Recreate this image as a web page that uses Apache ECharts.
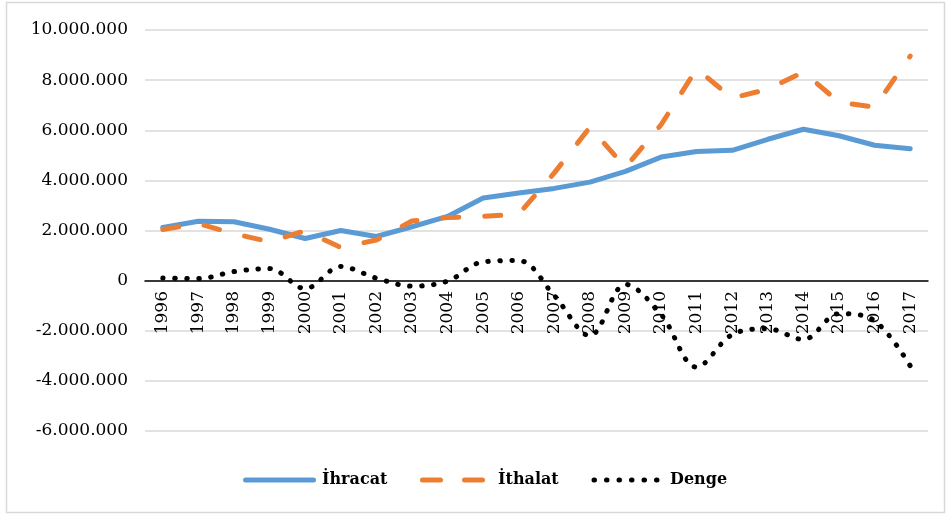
<!DOCTYPE html>
<html>
<head>
<meta charset="utf-8">
<script src="https://cdn.jsdelivr.net/npm/echarts@6/dist/echarts.min.js"></script>
<style>
  html, body { margin: 0; padding: 0; background: #fff; }
  #chart { width: 947px; height: 515px; }
</style>
</head>
<body>
<div id="chart"></div>
<script>
const years = ['1996', '1997', '1998', '1999', '2000', '2001', '2002', '2003', '2004', '2005', '2006',
  '2007', '2008', '2009', '2010', '2011', '2012', '2013', '2014', '2015', '2016', '2017']

// ihracat (exports)
const ihracat = [2120000, 2370000, 2350000, 2050000, 1680000, 2000000, 1760000, 2150000, 2560000, 3300000, 3500000,
  3680000, 3930000, 4360000, 4930000, 5150000, 5200000, 5640000, 6040000, 5780000, 5400000, 5260000]

// ithalat (imports)
const ithalat = [2040000, 2280000, 1870000, 1550000, 1990000, 1320000, 1620000, 2380000, 2520000, 2560000, 2650000,
  4300000, 6120000, 4520000, 6220000, 8450000, 7280000, 7640000, 8320000, 7120000, 6920000, 8960000]

// denge (balance)
const denge = [100000, 80000, 360000, 480000, -320000, 560000, 100000, -220000, -20000, 750000, 800000,
  -600000, -2200000, -150000, -1350000, -3450000, -2150000, -1920000, -2350000, -1320000, -1600000, -3400000]

const seriesNames = ['İhracat', 'İthalat', 'Denge']

const yMin = -6000000
const yMax = 10000000
const yStep = 2000000

const serif = '"DejaVu Serif", "Liberation Serif", serif'
const blue = '#5b9bd5'
const orange = '#ed7d31'

function fmt(v) {
  const s = String(Math.abs(v)).replace(/\B(?=(\d{3})+(?!\d))/g, '.')
  return (v < 0 ? '-' : '') + s
}

// legend drawn by hand so the line styles match (thick dash / dots)
const legendY = 480
function legendLine(x1, x2, color, dash) {
  return {
    type: 'line',
    shape: { x1, y1: legendY, x2, y2: legendY },
    style: { stroke: color, lineWidth: 5, lineCap: 'round', lineDash: dash || null },
    silent: true,
  }
}
function legendText(x, text) {
  return {
    type: 'text',
    x,
    y: legendY,
    style: {
      text,
      fill: '#000',
      font: 'bold 16px ' + serif,
      verticalAlign: 'middle',
      align: 'left',
    },
    silent: true,
  }
}

const chart = echarts.init(document.getElementById('chart'))

chart.setOption({
  animation: false,
  backgroundColor: '#fff',
  graphic: [
    {
      type: 'rect',
      shape: { x: 6.5, y: 2.5, width: 938, height: 510 },
      style: { fill: 'none', stroke: '#d9d9d9', lineWidth: 1.5 },
      silent: true,
    },
    legendLine(245.5, 313.5, blue),
    legendText(322, seriesNames[0]),
    legendLine(422.5, 484.5, orange, [18, 24]),
    legendText(498, seriesNames[1]),
    legendLine(594, 657, '#000', [0.5, 12]),
    legendText(670, seriesNames[2]),
  ],
  grid: {
    left: 145,
    right: 19,
    top: 30,
    bottom: 84,
    containLabel: false,
  },
  xAxis: {
    type: 'category',
    data: years,
    boundaryGap: true,
    position: 'bottom',
    offset: -150,
    axisLine: { onZero: false, lineStyle: { color: '#000', width: 1.5 } },
    axisTick: { show: false },
    axisLabel: {
      rotate: 90,
      margin: 10,
      interval: 0,
      fontFamily: serif,
      fontSize: 17,
      color: '#000',
    },
    splitLine: { show: false },
  },
  yAxis: {
    type: 'value',
    min: yMin,
    max: yMax,
    interval: yStep,
    axisLine: { show: false },
    axisTick: { show: false },
    axisLabel: {
      margin: 17,
      fontFamily: serif,
      fontSize: 17,
      color: '#000',
      formatter: fmt,
    },
    splitLine: { lineStyle: { color: '#d9d9d9', width: 1.5 } },
  },
  series: [
    {
      name: seriesNames[0],
      type: 'line',
      data: ihracat,
      symbol: 'none',
      lineStyle: { color: blue, width: 5, cap: 'round', join: 'round' },
      itemStyle: { color: blue },
    },
    {
      name: seriesNames[1],
      type: 'line',
      data: ithalat,
      symbol: 'none',
      lineStyle: { color: orange, width: 5, type: [16, 26], cap: 'round', join: 'round' },
      itemStyle: { color: orange },
    },
    {
      name: seriesNames[2],
      type: 'line',
      data: denge,
      symbol: 'none',
      smooth: 0.35,
      lineStyle: { color: '#000', width: 5, type: [0.5, 11.5], cap: 'round' },
      itemStyle: { color: '#000' },
    },
  ],
})
</script>
</body>
</html>
